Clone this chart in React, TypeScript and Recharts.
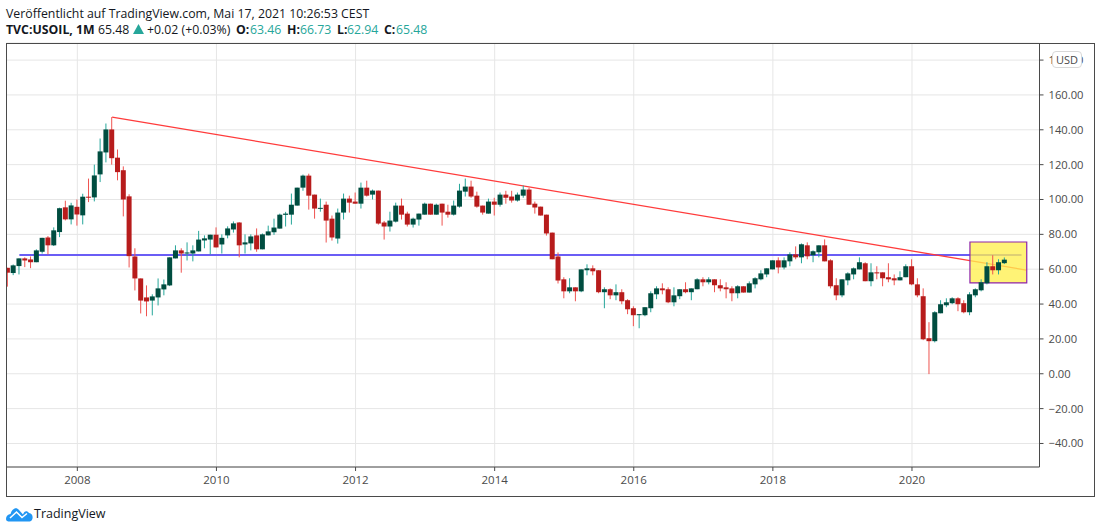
import { ComposedChart, Bar, XAxis, YAxis, CartesianGrid, ReferenceLine, ReferenceArea } from 'recharts';

// monthly candles, Jan 2007 - May 2021
const opens = [
  60.8, 57.8, 61.8, 66.2, 65.6, 64, 70, 78.2, 73.7, 81.3, 95.5, 88.6,
  95.8, 90.9, 101.6, 101.2, 114.4, 127, 140.2, 124, 116.8, 101.8, 67.3, 54.7,
  43.8, 42, 43.8, 48.4, 50.7, 66.2, 70.8, 69, 69, 70.2, 76.5, 77,
  79.8, 74.2, 79.4, 82.8, 86.8, 74.2, 74.8, 79.4, 71.4, 79.4, 81.2, 83.3,
  91.2, 91.3, 96.5, 106.8, 113.7, 102.8, 94.8, 97, 89, 77.6, 92.5, 100.5,
  98.8, 97.6, 106.8, 102.8, 105.1, 86.8, 84.5, 87.3, 96.5, 91.9, 85.6, 88.5,
  91.3, 97.6, 91.3, 97.6, 93, 91.3, 95.9, 104.5, 107.4, 102.2, 96.5, 91.9,
  98.8, 97, 102.8, 101.7, 99.4, 102.2, 105.7, 97.6, 95.9, 91.3, 81, 67.3,
  54.2, 47.3, 49.6, 47.3, 59.4, 60.5, 59.4, 46.8, 48.5, 45, 46.8, 42.2,
  37.6, 33.6, 33.6, 37.6, 45.6, 49, 48.5, 41, 44.5, 48.5, 46.8, 48.5,
  54.2, 52.5, 54.2, 50.8, 49.6, 49, 46.2, 50.2, 46.6, 51.3, 54.2, 57,
  59.9, 65.1, 61, 64.5, 68.5, 66.8, 73.7, 68, 69.7, 73.7, 65.1, 50.8,
  45, 53.6, 57, 59.9, 63.4, 53.1, 58.2, 58.2, 55.4, 54.8, 53.6, 55.4,
  61.7, 51.3, 44.5, 20.4, 18.7, 34.7, 39.3, 40.5, 43.3, 40.5, 35.3, 45,
  47.9, 51.9, 61.7, 59.4, 63.46,
];
const highs = [
  60.8, 62.7, 66.2, 66.8, 67.3, 71.4, 78, 79, 84, 95.3, 99.3, 98.1,
  100, 103.3, 112, 120, 135, 143.6, 147.3, 128.7, 119, 103, 72, 54.7,
  50.7, 45.6, 54.7, 54.1, 66.8, 73.7, 72, 75.4, 73.7, 82, 79.4, 79.8,
  84, 80, 84.6, 87.4, 87, 80, 80, 83.4, 80.5, 85, 89, 91.9,
  92.9, 103.4, 106.8, 114.3, 114.8, 102.8, 100.5, 98.8, 90.8, 94.8, 103.4, 102.2,
  104, 109.7, 110.8, 105.7, 105.1, 87.7, 93, 98.2, 100.5, 93, 89.6, 91.9,
  98.2, 97.6, 97.6, 97.6, 97, 99.4, 109, 112, 110.8, 104.5, 96.5, 100.5,
  101, 104, 105, 105, 104, 108, 106.8, 98.8, 95.9, 91.3, 81, 69.6,
  55.4, 54.8, 49.6, 59.9, 62.8, 62.2, 59.4, 49.6, 49, 51.3, 48.5, 42.8,
  38.7, 34.2, 38.2, 47.3, 50.2, 51.9, 49.6, 49.6, 48.5, 52.5, 49, 54.8,
  55.4, 55.4, 54.2, 54.2, 52.5, 50.2, 50.8, 50.2, 53, 55.4, 59.4, 60.5,
  65.1, 66.8, 66.8, 69.7, 73.1, 74.8, 75.4, 70.8, 73.7, 77.1, 65.7, 54.8,
  54.2, 58.2, 61, 66.8, 64, 63.4, 61.7, 58.2, 63.4, 57, 58.8, 62.8,
  65.7, 54.8, 49, 29.6, 35.9, 42.2, 43.3, 43.9, 43.9, 42.2, 46.8, 49,
  54.2, 64, 68, 65.7, 66.73,
];
const lows = [
  50, 56.6, 57, 61.2, 60.6, 64, 69, 68.5, 73.3, 78.4, 88, 85.7,
  85, 85.7, 98.5, 98.9, 110, 121.3, 120, 111, 90.3, 61, 47.8, 34.6,
  33, 33.5, 39.2, 45, 50.3, 66.2, 58, 65, 64.5, 70.2, 72, 68.5,
  72.5, 69, 77.7, 81, 66.8, 69, 70.8, 70, 71.4, 79.4, 79.7, 83.3,
  84.5, 85.6, 96.5, 105, 94.2, 89, 93, 75.3, 76.4, 74.7, 88.5, 92.5,
  97.6, 94.8, 101.7, 100, 85.6, 77, 81.6, 86.8, 88.5, 84.5, 83.9, 85,
  91.3, 91.3, 91.3, 85, 89.6, 90.8, 95.3, 101.7, 101, 95.3, 91.3, 91.9,
  90.8, 95.9, 97.6, 98.2, 98.8, 101, 97, 91.9, 90.8, 79.3, 65.7, 51.8,
  43.3, 46.2, 41.6, 46.8, 56.5, 56.5, 46.2, 37.6, 42.8, 42.2, 39.9, 34.2,
  27.3, 26.1, 33, 35.3, 42.8, 45.6, 40.5, 38.7, 42.8, 46.2, 42.2, 48.5,
  50.2, 51.3, 46.8, 47.3, 43.3, 41.6, 43.3, 46.6, 46.6, 49, 53.6, 55.4,
  59.9, 57.6, 59.9, 61.7, 65.7, 63.4, 65.7, 64, 66.8, 64.5, 49, 42.2,
  43.9, 50.8, 54.2, 59.9, 53.1, 50.2, 54.2, 50.2, 52.5, 50.8, 53.6, 55.4,
  50.8, 43.9, 19.3, -0.2, 18, 34.7, 38.2, 39.9, 35.9, 34.7, 33.6, 43.9,
  47.3, 51.3, 57, 57, 62.94,
];
const closes = [
  58, 62.2, 66.2, 65, 64, 70.8, 78, 73.7, 82.3, 95, 88.6, 96.6,
  91.4, 101.6, 101.2, 113.8, 127.6, 140.2, 123.7, 115.7, 100, 67.5, 54.7, 42,
  41.5, 44.4, 49, 51.3, 66.8, 70.8, 69, 69.6, 70.8, 77, 77.7, 79.8,
  72.5, 78, 83.4, 86.3, 73.7, 75.4, 78.8, 71.4, 80, 81.7, 83.9, 91.3,
  91.9, 97, 106.8, 113.7, 102.2, 94.8, 95.2, 87.9, 78.2, 92.5, 100.5, 98.2,
  97.6, 106.8, 102.2, 105.1, 86.2, 84.5, 87.9, 96.5, 91.3, 85.6, 89, 91.9,
  97.6, 91.3, 97, 92.5, 91.3, 96.5, 105.1, 107.4, 101.7, 95.9, 92.5, 98.8,
  97, 102.8, 101, 99.4, 102.8, 105.7, 97, 95.4, 90.8, 80.5, 65.7, 53.5,
  47.3, 49.6, 47.3, 59.9, 60.5, 58.8, 46.8, 48.5, 45, 46.8, 41.6, 37,
  33.6, 34.2, 38.2, 46.2, 49, 47.9, 41, 45, 48.5, 46.8, 49, 54.2,
  52.5, 54.2, 50.8, 49, 48.5, 46.2, 50.2, 46.6, 51.9, 54.8, 57.6, 60.5,
  65.1, 61, 65.1, 68.5, 66.8, 74.3, 67.4, 70.3, 73.7, 64.5, 50.2, 45,
  54.2, 57.6, 60.5, 64, 53.1, 58.2, 57.6, 54.8, 54.2, 53.6, 55.4, 61.7,
  51.3, 45, 19.8, 18.7, 35.3, 39.9, 41, 43.3, 39.9, 35.3, 45.6, 48.5,
  52.5, 61.7, 59.4, 64, 65.48,
];

const yearTicks = [12, 36, 60, 84, 108, 132, 156];
const yearLabels = ['2008', '2010', '2012', '2014', '2016', '2018', '2020'];
const priceTicks = [-40, -20, 0, 20, 40, 60, 80, 100, 120, 140, 160, 180];

// drawings on the chart, in month index / price
const trendStart = { x: 18, y: 147.3 };
const trendEnd = { x: 175.7, y: 59.5 };
const horizontalLine = { x1: 2, x2: 174.9, y: 68.2 };
const highlightBox = { x1: 166, x2: 175.8, y1: 52.1, y2: 75.6 };

// header line 2: text, left position, colour, bold
const headerParts: [string, number, string, boolean][] = [
  ['TVC:USOIL, 1M', 6, '#131722', true],
  ['65.48', 98, '#131722', false],
  ['+0.02 (+0.03%)', 147, '#131722', false],
  ['O:', 236, '#131722', true],
  ['63.46', 250, '#26a69a', false],
  ['H:', 287, '#131722', true],
  ['66.73', 300, '#26a69a', false],
  ['L:', 337, '#131722', true],
  ['62.94', 347, '#26a69a', false],
  ['C:', 384, '#131722', true],
  ['65.48', 396, '#26a69a', false],
];

const data = opens.map((open, i) => ({
  month: i,
  open,
  close: closes[i],
  range: [lows[i], highs[i]],
}));

const fontFamily = '"Open Sans", sans-serif';
const UP_BODY = '#004d40';
const DOWN_BODY = '#b71c1c';
const UP_WICK = '#26a69a';
const DOWN_WICK = '#ef5350';
const FRAME = '#4a4a4a';

function Candle(props: any) {
  const { x, y, width, height, payload } = props;
  const [low, high] = payload.range;
  const perUnit = Math.abs(height) / (high - low);
  const top = Math.min(y, y + height);
  const up = payload.close >= payload.open;
  const cx = x + width / 2;
  const bodyTop = top + (high - Math.max(payload.open, payload.close)) * perUnit;
  const bodyHeight = Math.max(Math.abs(payload.close - payload.open) * perUnit, 1);
  return (
    <g>
      <line x1={cx} x2={cx} y1={top} y2={top + Math.abs(height)} stroke={up ? UP_WICK : DOWN_WICK} strokeWidth={1} />
      <rect x={x} y={bodyTop} width={width} height={bodyHeight} fill={up ? UP_BODY : DOWN_BODY} />
    </g>
  );
}

export default function App() {
  return (
    <div style={{ position: 'absolute', left: 0, top: 0, width: 1100, height: 532, background: '#fff', fontFamily, color: '#131722' }}>
      <div style={{ position: 'absolute', left: 6, top: 5, fontSize: 12.3, whiteSpace: 'nowrap' }}>
        Veröffentlicht auf TradingView.com, Mai 17, 2021 10:26:53 CEST
      </div>
      {headerParts.map(([text, left, color, bold]) => (
        <div
          key={left}
          style={{ position: 'absolute', left, top: 21, fontSize: 12.3, color, fontWeight: bold ? 700 : 400, whiteSpace: 'nowrap' }}
        >
          {text}
        </div>
      ))}
      <svg width={11} height={10} style={{ position: 'absolute', left: 133, top: 24 }}>
        <path d="M5.5 0 L11 10 L0 10 Z" fill="#26a69a" />
      </svg>

      <ComposedChart
        width={1100}
        height={532}
        data={data}
        margin={{ top: 43, right: 6.5, bottom: 37, left: 6.5 }}
        style={{ position: 'absolute', left: 0, top: 0 }}
      >
        <CartesianGrid stroke="#e6e6e6" strokeWidth={1} />
        <XAxis
          dataKey="month"
          type="number"
          domain={[-0.22, 178]}
          allowDataOverflow
          ticks={yearTicks}
          tickFormatter={(v: number) => yearLabels[yearTicks.indexOf(v)]}
          height={28}
          tick={{ fontSize: 11.5, fill: '#4a4a4a', fontFamily }}
          tickSize={4}
          tickMargin={5}
          tickLine={{ stroke: FRAME }}
          axisLine={{ stroke: FRAME }}
          interval={0}
        />
        <YAxis
          orientation="right"
          type="number"
          domain={[-53.5, 189.8]}
          allowDataOverflow
          ticks={priceTicks}
          tickFormatter={(v: number) => v.toFixed(2).replace('-', '\u2212')}
          width={54}
          tick={{ fontSize: 11.2, fill: '#4a4a4a', fontFamily }}
          tickSize={4}
          tickMargin={5}
          tickLine={{ stroke: FRAME }}
          axisLine={{ stroke: FRAME }}
          interval={0}
        />
        <ReferenceLine
          segment={[{ x: horizontalLine.x1, y: horizontalLine.y }, { x: horizontalLine.x2, y: horizontalLine.y }]}
          stroke="#6a5df5"
          strokeWidth={2}
          zIndex={100}
        />
        <ReferenceLine segment={[trendStart, trendEnd]} stroke="#ff3b3b" strokeWidth={1.3} zIndex={100} />
        <ReferenceArea
          x1={highlightBox.x1}
          x2={highlightBox.x2}
          y1={highlightBox.y1}
          y2={highlightBox.y2}
          fill="#fff050"
          fillOpacity={0.78}
          stroke="#8e24aa"
          strokeWidth={1.2}
          zIndex={200}
        />
        <Bar dataKey="range" barSize={5} shape={Candle} isAnimationActive={false} zIndex={300} />
      </ComposedChart>

      {/* outer frame of the widget */}
      <div style={{ position: 'absolute', left: 6, top: 43, width: 1087, height: 452, border: `1px solid ${FRAME}`, pointerEvents: 'none' }} />

      <div style={{ position: 'absolute', left: 1052, top: 51, width: 28, height: 15, lineHeight: '15px', textAlign: 'center', fontSize: 11, color: '#4a4a4a', background: '#fff', border: '1px solid #d8d8d8', borderRadius: 4 }}>
        USD
      </div>

      <svg width={28} height={18} viewBox="0 0 28 18" style={{ position: 'absolute', left: 6, top: 505 }}>
        <path
          d="M0 14 C0 11 2 9.5 4.5 9 C6 4 10 1.5 13 5 L17 9.5 C18 6 21 5 23 8 C26 8.5 27 11 26.5 13.5 C26 16 24.5 16.5 22 16.5 L4 16.5 C1.5 16.5 0 16 0 14 Z"
          fill="#2196f3"
        />
        <path d="M4 13 L10.5 7 L16 12.5 L21 8.5" stroke="#fff" strokeWidth={1.5} fill="none" />
      </svg>
      <div style={{ position: 'absolute', left: 34, top: 505, fontSize: 12.5, whiteSpace: 'nowrap' }}>TradingView</div>
    </div>
  );
}
